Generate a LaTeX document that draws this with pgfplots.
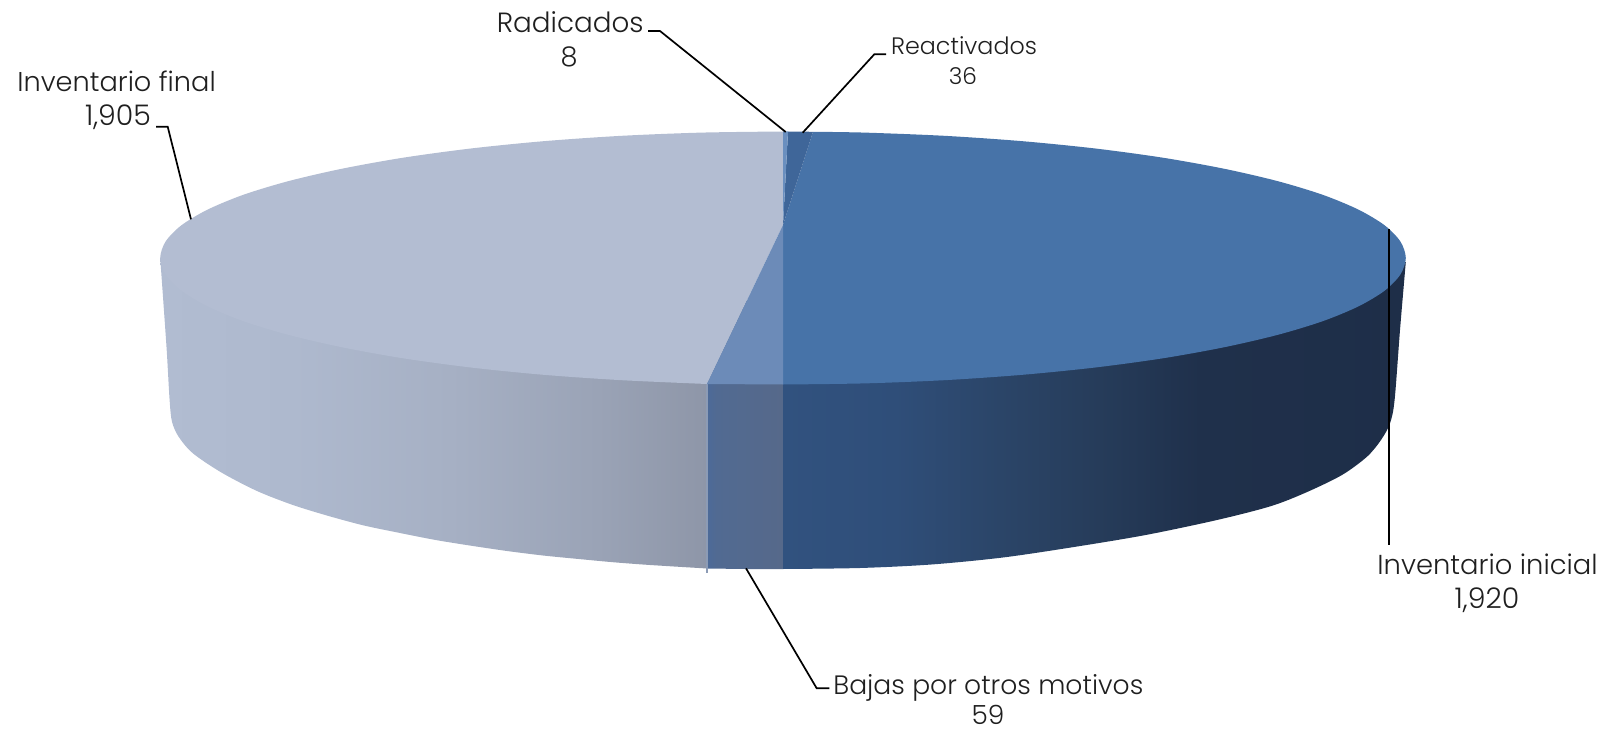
\documentclass[border=0pt]{standalone}
\usepackage{fontspec}
\usepackage{pgfplots}
\pgfplotsset{compat=1.18}
\setmainfont{Poppins Light}
\definecolor{aA}{HTML}{B1BCD1}\definecolor{aB}{HTML}{AEB9CE}\definecolor{aC}{HTML}{A6B0C4}\definecolor{aD}{HTML}{9AA3B6}\definecolor{aE}{HTML}{8E96A8}
\definecolor{bA}{HTML}{4C6A99}\definecolor{bB}{HTML}{516A92}\definecolor{bC}{HTML}{56698A}
\definecolor{cA}{HTML}{31527F}\definecolor{cB}{HTML}{2F4E79}\definecolor{cC}{HTML}{2B4568}\definecolor{cD}{HTML}{263C5A}\definecolor{cE}{HTML}{1F304B}\definecolor{cF}{HTML}{1E2E48}
\definecolor{topFinal}{HTML}{B3BDD2}
\definecolor{topInicial}{HTML}{4773A8}
\definecolor{topReact}{HTML}{3F6699}
\definecolor{topRad}{HTML}{6A8FBF}
\definecolor{topBajas}{HTML}{6C8BB8}
\definecolor{seam}{HTML}{8C9BB5}
\pgfdeclarehorizontalshading{sideA}{100bp}{color(0bp)=(aA);color(25bp)=(aA);color(37bp)=(aB);color(51.5bp)=(aC);color(65bp)=(aD);color(75bp)=(aE);color(100bp)=(aE)}
\pgfdeclarehorizontalshading{sideB}{100bp}{color(0bp)=(bA);color(25bp)=(bA);color(31bp)=(bB);color(75bp)=(bC);color(100bp)=(bC)}
\pgfdeclarehorizontalshading{sideC}{100bp}{color(0bp)=(cA);color(25bp)=(cA);color(34bp)=(cB);color(42.4bp)=(cC);color(50.4bp)=(cD);color(58.5bp)=(cE);color(75bp)=(cF);color(100bp)=(cF)}
\newcommand{\lbl}[4]{\node[anchor=#1,inner sep=0pt,font=\fontsize{#4}{#4}\selectfont,text=black!88] at (axis cs:#2) {#3};}
\begin{document}
\begin{tikzpicture}
\path[use as bounding box] (0,0) rectangle (801.5pt,366.5pt);
\begin{axis}[at={(0,0)},anchor=south west,scale only axis,width=801.5pt,height=366.5pt,
  xmin=0,xmax=1603,ymin=0,ymax=733,y dir=reverse,hide axis,clip=false]
% side walls
\addplot[draw=none,shading=sideA,smooth] coordinates {(160.2,258)(162,283)(166.7,350)(169.6,400)(172,421.7)(178.6,436.7)(192.9,453.3)(221.4,472.5)(257,491)(292.9,505)(328.6,516)(364,525.5)(400,533)(435.7,540)(471,545.7)(507,551)(543,555.5)(578.6,559)(614,562.3)(650,565)(707,568.5)} -- (axis cs:707,300) -- cycle;
\addplot[draw=none,shading=sideB] coordinates {(707,300)(707,568.5)(745,569)(783,569)(783,300)} -- cycle;
\addplot[draw=none,shading=sideC,smooth] coordinates {(783,569)(860,568)(931.4,564.5)(1002.9,557.5)(1074,547)(1145.7,535)(1217,520)(1270.7,506.2)(1306,492.5)(1342,475)(1367,456.7)(1381,440)(1390,423.3)(1394.6,400)(1400,330)(1405.8,262)} -- (axis cs:783,300) -- cycle;
\addplot[draw=seam,line width=.6pt] coordinates {(707,384)(707,573)};
% top face: Inventario final
\addplot[fill=topFinal,draw=none,smooth] coordinates {(783,131.5)(701.7,132.6)(621.8,135.8)(544.7,141.1)(471.6,148.4)(403.8,157.6)(342.6,168.6)(288.9,181)(243.6,194.7)(207.6,209.6)(181.4,225.3)(165.6,241.5)(160.2,258)(165.6,274.5)(181.4,290.7)(207.6,306.4)(243.6,321.3)(288.9,335)(342.6,347.4)(403.8,358.4)(471.6,367.6)(544.7,374.9)(621.8,380.2)(707,384)} -- (axis cs:783,225) -- cycle;
% Inventario inicial
\addplot[fill=topInicial,draw=none,smooth] coordinates {(813,131.8)(864.3,132.6)(944.2,135.8)(1021.3,141.1)(1094.4,148.4)(1162.2,157.6)(1223.4,168.6)(1277.1,181)(1322.4,194.7)(1358.4,209.6)(1384.6,225.3)(1400.4,241.5)(1405.8,258)(1400.4,274.5)(1384.6,290.7)(1358.4,306.4)(1322.4,321.3)(1277.1,335)(1223.4,347.4)(1162.2,358.4)(1094.4,367.6)(1021.3,374.9)(944.2,380.2)(864.3,383.4)(783,384.5)} -- (axis cs:783,225) -- cycle;
% Bajas por otros motivos
\addplot[fill=topBajas,draw=none] coordinates {(783,225)(783,384.5)(707,384)} -- cycle;
% Reactivados
\addplot[fill=topReact,draw=none] coordinates {(783,225)(788,131.5)(813,131.8)} -- cycle;
% Radicados
\addplot[fill=topRad,draw=none] coordinates {(783,225)(783,131.5)(788,131.5)} -- cycle;
% leaders
\addplot[black,line width=.85pt] coordinates {(648,31)(660,31)(785.7,132)};
\addplot[black,line width=.85pt] coordinates {(886,54.3)(874.3,54.3)(802.7,132.7)};
\addplot[black,line width=.85pt] coordinates {(156,126.7)(167.7,126.7)(191,219.3)};
\addplot[black,line width=.85pt] coordinates {(746,568.3)(816.7,688.3)(829.3,688.3)};
\addplot[black,line width=.85pt] coordinates {(1388.7,229.3)(1388.7,545)};
% labels
\lbl{base west}{17,91.7}{Inventario final}{13.6}
\lbl{base}{118,126}{1,905}{14.2}
\lbl{base east}{644,32.7}{Radicados}{13.9}
\lbl{base}{569,66.5}{8}{13.6}
\lbl{base west}{890.7,55}{Reactivados}{11.9}
\lbl{base}{963,85}{36}{11.6}
\lbl{base west}{833,694}{Bajas por otros motivos}{13.3}
\lbl{base}{988,724}{59}{13.2}
\lbl{base west}{1377,574}{Inventario inicial}{13.7}
\lbl{base}{1487,608}{1,920}{14.2}
\end{axis}
\end{tikzpicture}
\end{document}
